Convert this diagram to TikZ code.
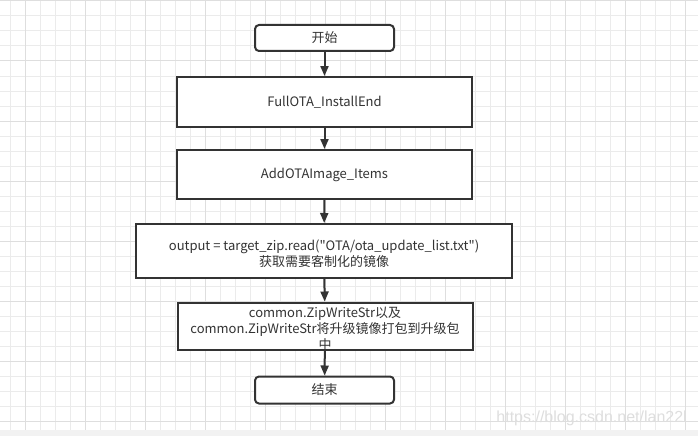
\documentclass[tikz,border=0pt]{standalone}
\usepackage{fontspec}
\setmainfont{Noto Sans CJK SC}[Ligatures=TeXOff]
\newfontfamily\wmfont{Liberation Sans}
\usetikzlibrary{arrows.meta}
\definecolor{ink}{HTML}{333333}
\definecolor{gridc}{HTML}{EBEBEB}
\definecolor{gridd}{HTML}{DEDEDE}
\definecolor{stripc}{HTML}{F2F2F2}
\tikzset{
  box/.style={draw=ink, line width=2pt, fill=white, text=ink, align=center,
    inner sep=0pt, font=\fontsize{13}{16}\selectfont},
  term/.style={box, rounded corners=4pt},
  flow/.style={draw=ink, line width=2pt, -{Triangle[length=10pt,width=8pt]}},
}
\begin{document}
\begin{tikzpicture}[x=1pt,y=-1pt]
\useasboundingbox (0,0) rectangle (698,436);
\fill[white] (0,0) rectangle (698,436);
% grid
\foreach \k in {0,...,45} {
  \pgfmathsetmacro{\xx}{10+15*\k}
  \draw[gridc, line width=1pt] (\xx,0) -- (\xx,430);
}
\foreach \k in {0,...,28} {
  \pgfmathsetmacro{\yy}{1+15*\k}
  \draw[gridc, line width=1pt] (0,\yy) -- (698,\yy);
}
\foreach \xx in {25,85,...,685} \draw[gridd, line width=1pt] (\xx,0) -- (\xx,430);
\foreach \yy in {1,61,...,421} \draw[gridd, line width=1pt] (0,\yy) -- (698,\yy);
\fill[stripc] (0,430) rectangle (698,436);
% nodes
\node[term, minimum width=139pt, minimum height=26pt] (start) at (324.5,38) {开始};
\node[box, minimum width=295pt, minimum height=50pt] (n1) at (324.5,102) {FullOTA\_InstallEnd};
\node[box, minimum width=295pt, minimum height=49pt] (n2) at (324.5,174.5) {AddOTAImage\_Items};
\node[box, minimum width=376pt, minimum height=54pt, text height=33pt] (n3) at (324,251) {output = target\_zip.read("OTA/ota\_update\_list.txt")\\获取需要客制化的镜像};
\node[box, minimum width=295pt, minimum height=47pt, text height=46pt, text depth=0pt] (n4) at (325,326) {common.ZipWriteStr以及\\common.ZipWriteStr将升级镜像打包到升级包\\中};
\node[term, minimum width=139pt, minimum height=27pt] (end) at (324.5,390) {结束};
% connectors
\draw[flow] (start) -- (n1);
\draw[flow] (n1) -- (n2);
\draw[flow] (n2) -- (n3);
\draw[flow] (n3) -- (n4);
\draw[flow] (n4) -- (end);
% watermark
\node[anchor=east, text=gridd, font=\wmfont\fontsize{16}{18}\selectfont, inner sep=0pt] (wm) at (687,418) {https://blog.csdn.net/lan22l};
\end{tikzpicture}
\end{document}
